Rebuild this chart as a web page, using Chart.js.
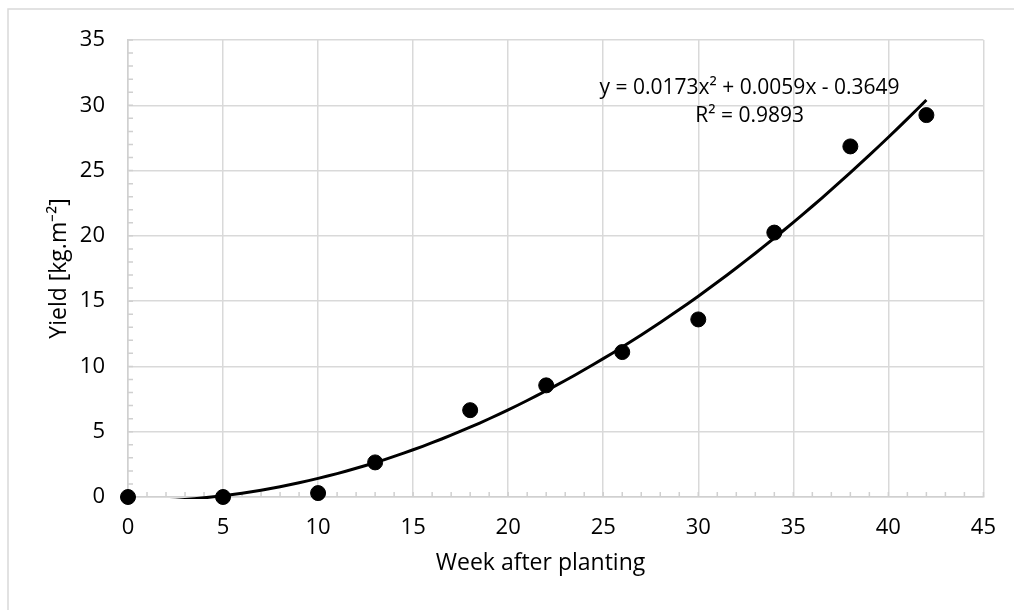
<!DOCTYPE html>
<html>
<head>
<meta charset="utf-8">
<script src="https://cdn.jsdelivr.net/npm/chart.js@4"></script>
<style>
  html, body { margin: 0; padding: 0; background: #fff; }
  #wrap { width: 1014px; height: 610px; position: relative; }
</style>
</head>
<body>
<div id="wrap"><canvas id="myChart"></canvas></div>
<script>
var weeks = [0, 5, 10, 13, 18, 22, 26, 30, 34, 38, 42]
var yieldVals = [0, 0, 0.3, 2.65, 6.65, 8.55, 11.1, 13.6, 20.25, 26.85, 29.25]

// quadratic trendline coefficients as printed on the chart
var trendCoef = [0.0173, 0.0059, -0.3649]
var trendText = ['y = 0.0173x\u00b2 + 0.0059x - 0.3649', 'R\u00b2 = 0.9893']
var xTitle = 'Week after planting'

var fontName = "'Open Sans', sans-serif"

var trendPts = []
for (var x = 0; x <= 42; x += 0.5) {
  trendPts.push({ x: x, y: trendCoef[0] * x * x + trendCoef[1] * x + trendCoef[2] })
}

var points = weeks.map(function (w, i) { return { x: w, y: yieldVals[i] } })

// light frame round the chart, minor ticks, x title and the equation label
var extras = {
  id: 'extras',
  beforeDraw: function (chart) {
    var c = chart.ctx
    c.save()
    c.strokeStyle = '#d9d9d9'
    c.lineWidth = 1.5
    c.beginPath()
    c.moveTo(8, 640)
    c.lineTo(8, 9)
    c.lineTo(1040, 9)
    c.stroke()
    c.restore()
  },
  beforeDatasetsDraw: function (chart) {
    var c = chart.ctx
    var xs = chart.scales.x, ys = chart.scales.y
    var a = chart.chartArea
    c.save()
    c.strokeStyle = '#d0d0d0'
    c.lineWidth = 1.5
    c.beginPath()
    for (var i = 0; i <= 45; i++) {
      var px = xs.getPixelForValue(i)
      c.moveTo(px, a.bottom)
      c.lineTo(px, a.bottom - 5)
    }
    for (var j = 0; j <= 35; j++) {
      var py = ys.getPixelForValue(j)
      c.moveTo(a.left, py)
      c.lineTo(a.left + 5, py)
    }
    c.stroke()
    c.restore()
  },
  afterDraw: function (chart) {
    var c = chart.ctx
    var xs = chart.scales.x, ys = chart.scales.y
    c.save()
    c.fillStyle = '#000'
    c.textAlign = 'center'
    c.textBaseline = 'middle'
    c.font = '21px ' + fontName
    var cx = xs.getPixelForValue(32.7)
    c.fillText(trendText[0], cx, ys.getPixelForValue(31.3))
    c.fillText(trendText[1], cx, ys.getPixelForValue(29.2))
    c.font = '23px ' + fontName
    c.fillText(xTitle, xs.getPixelForValue(21.7), chart.chartArea.bottom + 66)
    c.restore()
  }
}

var myChart = document.getElementById('myChart').getContext('2d')

var chart = new Chart(myChart, {
  type: 'scatter',
  data: {
    datasets: [
      {
        label: 'Yield',
        data: points,
        backgroundColor: '#000',
        borderColor: '#000',
        pointRadius: 7.5,
        pointHoverRadius: 7.5,
        clip: false,
        order: 0
      },
      {
        label: 'Trend',
        data: trendPts,
        showLine: true,
        borderColor: '#000',
        borderWidth: 3,
        pointRadius: 0,
        tension: 0,
        clip: { left: 0, top: 0, right: 0, bottom: 2 },
        order: 1
      }
    ]
  },
  options: {
    responsive: true,
    maintainAspectRatio: false,
    animation: false,
    layout: { padding: { left: 0, top: 40, right: 30, bottom: 0 } },
    plugins: {
      legend: { display: false },
      tooltip: { enabled: false }
    },
    scales: {
      x: {
        type: 'linear',
        min: 0,
        max: 45,
        ticks: { stepSize: 5, color: '#000', padding: 18, font: { family: fontName, size: 22 } },
        grid: { color: '#d9d9d9', lineWidth: 1.5, drawTicks: false },
        border: { color: '#d0d0d0', width: 1.5 },
        afterFit: function (scale) { scale.height = 113 }
      },
      y: {
        type: 'linear',
        min: 0,
        max: 35,
        ticks: { stepSize: 5, color: '#000', padding: 23, font: { family: fontName, size: 22 } },
        grid: { color: '#d9d9d9', lineWidth: 1.5, drawTicks: false },
        border: { color: '#d0d0d0', width: 1.5 },
        title: {
          display: true,
          text: 'Yield [kg.m\u207b\u00b2]',
          color: '#000',
          font: { family: fontName, size: 23 },
          padding: { top: 46, bottom: 0 }
        },
        afterFit: function (scale) { scale.width = 128 }
      }
    }
  },
  plugins: [extras]
})
</script>
</body>
</html>
